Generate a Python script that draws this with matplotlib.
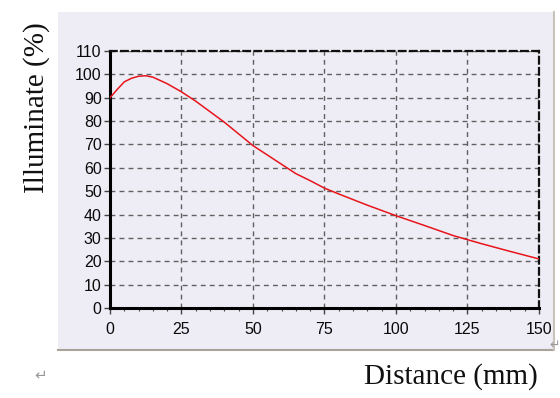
import matplotlib.pyplot as plt
from matplotlib.patches import Rectangle
from matplotlib.ticker import MultipleLocator

# values
distance = [0, 2.5, 5, 7.5, 10, 12.5, 15, 20, 25, 30, 35, 40, 45, 50, 55,
            60, 65, 70, 75, 80, 90, 100, 110, 120, 130, 140, 150]
illuminate = [90, 93.5, 96.8, 98.3, 99.2, 99.4, 98.8, 96, 92.5, 88.5, 84,
              79.5, 74.5, 69.5, 65.5, 61.5, 57.5, 54.5, 51.3, 48.8, 44, 39.5,
              35.3, 31, 27.5, 24.2, 21]
x_ticks = [0, 25, 50, 75, 100, 125, 150]
y_ticks = list(range(0, 111, 10))

fig = plt.figure(figsize=(5.6, 3.98), dpi=100)
fig.patch.set_facecolor("white")

# marble-like panel behind the chart
panel = Rectangle((0.1036, 0.1206), 0.885, 0.849, transform=fig.transFigure,
                  facecolor="#eeedf5", edgecolor="none", zorder=-5)
fig.patches.append(panel)
fig.add_artist(plt.Line2D([0.1036, 0.989], [0.1206, 0.1206], color="#a8a49a",
                          lw=1.5, transform=fig.transFigure, zorder=-4))
fig.add_artist(plt.Line2D([0.989, 0.989], [0.1206, 0.969], color="#c8c4bc",
                          lw=1.5, transform=fig.transFigure, zorder=-4))

ax = fig.add_axes([0.1964, 0.2261, 0.7661, 0.6458])
ax.set_zorder(2)
ax.set_facecolor("none")
ax.plot(distance, illuminate, color="#e8141c", lw=1.1, zorder=3)

ax.set_xlim(0, 150)
ax.set_ylim(0, 110)
ax.set_xticks(x_ticks)
ax.set_yticks(y_ticks)
ax.xaxis.set_minor_locator(MultipleLocator(5))
ax.grid(True, which="major", color="#606060", ls=(0, (3.5, 3)), lw=1)

for side in ["left", "bottom"]:
    ax.spines[side].set_linewidth(2.2)
    ax.spines[side].set_color("black")
for side in ["top", "right"]:
    ax.spines[side].set_linewidth(1.6)
    ax.spines[side].set_linestyle((0, (3, 2)))
    ax.spines[side].set_color("#111111")

ax.tick_params(axis="both", which="major", length=4, width=1, color="#444444",
               labelsize=11.5, labelcolor="#0a0a0a", pad=2)
ax.tick_params(axis="x", which="minor", length=2.5, width=0.8, color="#444444")
for lab in ax.get_xticklabels() + ax.get_yticklabels():
    lab.set_fontfamily("Liberation Sans")
ax.tick_params(axis="x", pad=6)

fig.text(0.066, 0.73, "Illuminate (%)", rotation=90, ha="center", va="center",
         fontfamily="Liberation Serif", fontsize=21, color="#111111")
fig.text(0.805, 0.053, "Distance (mm)", ha="center", va="center",
         fontfamily="Liberation Serif", fontsize=21, color="#111111")
fig.text(0.072, 0.057, "\u21b5", ha="center", va="center",
         fontfamily="DejaVu Sans", fontsize=11, color="#999999")
fig.text(0.99, 0.133, "\u21b5", ha="center", va="center",
         fontfamily="DejaVu Sans", fontsize=9, color="#999999")

fig.savefig("out.png", dpi=100)
